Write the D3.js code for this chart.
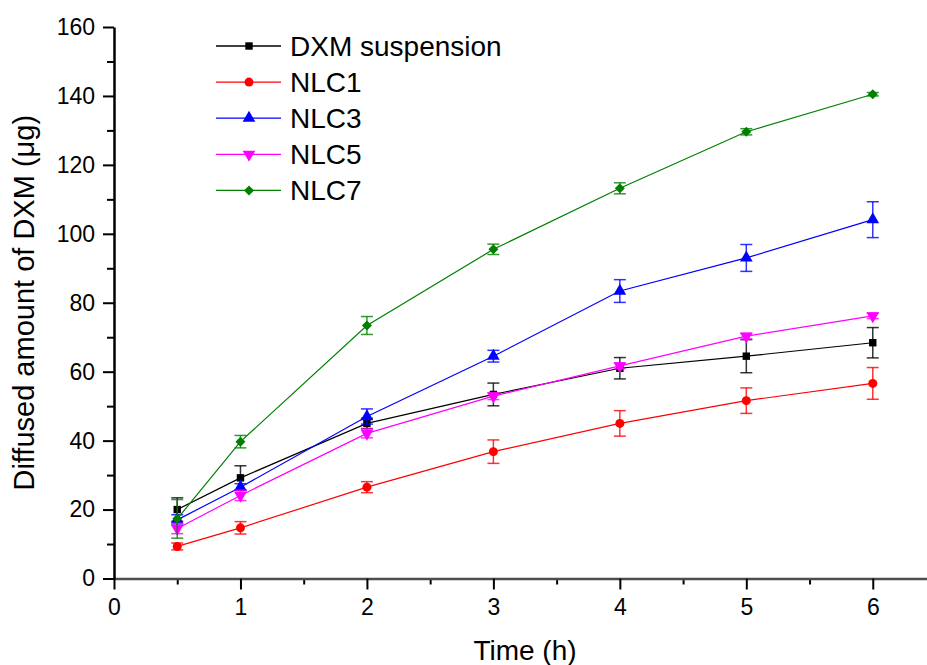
<!DOCTYPE html>
<html>
<head>
<meta charset="utf-8">
<script src="https://cdn.jsdelivr.net/npm/d3@7"></script>
<style>
  body { margin: 0; background: #fff; }
  text { font-family: "Liberation Sans", Arial, sans-serif; fill: #000; }
</style>
</head>
<body>
<div id="chart"></div>
<script>
  // Time points (h)
  const times = [0.5, 1, 2, 3, 4, 5, 6];

  // Series names (legend order = draw order)
  const seriesNames = ["DXM suspension", "NLC1", "NLC3", "NLC5", "NLC7"];
  const seriesColors = ["#000000", "#ff0000", "#0000ff", "#ff00ff", "#008000"];
  const seriesSymbols = ["square", "circle", "triangle", "triangleDown", "diamond"];

  // Mean diffused amount (µg)
  const dxmValues  = [20.0, 29.2, 45.0, 53.4, 61.0, 64.5, 68.4];
  const nlc1Values = [9.3, 14.7, 26.5, 36.8, 45.0, 51.6, 56.6];
  const nlc3Values = [17.0, 26.5, 47.0, 64.5, 83.4, 93.0, 104.1];
  const nlc5Values = [14.5, 24.1, 42.1, 52.9, 61.7, 70.3, 76.2];
  const nlc7Values = [17.3, 39.7, 73.4, 95.5, 113.2, 129.6, 140.5];

  // Error bars (± SD)
  const dxmErr  = [3.4, 3.5, 1.5, 3.3, 3.1, 4.8, 4.4];
  const nlc1Err = [1.0, 1.8, 1.6, 3.4, 3.7, 3.7, 4.6];
  const nlc3Err = [1.5, 1.0, 2.2, 1.7, 3.3, 3.9, 5.2];
  const nlc5Err = [1.5, 1.5, 1.3, 1.0, 0.8, 0.8, 0.8];
  const nlc7Err = [5.6, 1.8, 2.6, 1.5, 1.6, 0.9, 0.5];

  const xTicks = [0, 1, 2, 3, 4, 5, 6];
  const yTicks = [0, 20, 40, 60, 80, 100, 120, 140, 160];

  const allValues = [dxmValues, nlc1Values, nlc3Values, nlc5Values, nlc7Values];
  const allErr = [dxmErr, nlc1Err, nlc3Err, nlc5Err, nlc7Err];

  const series = seriesNames.map((name, i) => ({
    name: name,
    color: seriesColors[i],
    symbol: seriesSymbols[i],
    points: times.map((t, j) => ({ t: t, v: allValues[i][j], e: allErr[i][j] }))
  }));

  const width = 927, height = 665;
  const margin = { top: 27, left: 114, bottom: 86.5 };

  const svg = d3.select("#chart").append("svg")
    .attr("width", width)
    .attr("height", height);

  // x axis runs past the right edge (domain up to 6.5)
  const x = d3.scaleLinear().domain([0, 6.5]).range([margin.left, 936]);
  const y = d3.scaleLinear().domain([0, 160]).range([height - margin.bottom, margin.top]);

  // minor ticks first
  svg.append("g")
    .attr("transform", `translate(0, ${y(0)})`)
    .call(d3.axisBottom(x).tickValues(d3.range(0.5, 6.6, 1)).tickSize(6).tickFormat(""))
    .call(g => g.select(".domain").remove())
    .call(g => g.selectAll("line").attr("stroke", "#000").attr("stroke-width", 2));

  svg.append("g")
    .attr("transform", `translate(${x(0)}, 0)`)
    .call(d3.axisLeft(y).tickValues(d3.range(10, 160, 20)).tickSize(7).tickFormat(""))
    .call(g => g.select(".domain").remove())
    .call(g => g.selectAll("line").attr("stroke", "#000").attr("stroke-width", 2));

  // major axes
  const xAxis = svg.append("g")
    .attr("transform", `translate(0, ${y(0)})`)
    .call(d3.axisBottom(x).tickValues(xTicks).tickFormat(d3.format("d"))
      .tickSize(11).tickPadding(9).tickSizeOuter(0));
  xAxis.select(".domain").attr("stroke", "#4d4d4d").attr("stroke-width", 2.5);
  xAxis.selectAll("line").attr("stroke", "#000").attr("stroke-width", 2);
  xAxis.selectAll("text").style("font-size", "23px").attr("fill", "#000");

  const yAxis = svg.append("g")
    .attr("transform", `translate(${x(0)}, 0)`)
    .call(d3.axisLeft(y).tickValues(yTicks).tickSize(11).tickPadding(8).tickSizeOuter(0));
  yAxis.select(".domain").attr("stroke", "#000").attr("stroke-width", 2.5);
  yAxis.selectAll("line").attr("stroke", "#000").attr("stroke-width", 2);
  yAxis.selectAll("text").style("font-size", "23px").attr("fill", "#000");

  // axis titles
  svg.append("text")
    .attr("x", (x(0) + x(6.5)) / 2)
    .attr("y", 660)
    .attr("text-anchor", "middle")
    .style("font-size", "28px")
    .text("Time (h)");

  svg.append("text")
    .attr("transform", `translate(34, ${(y(0) + y(160)) / 2}) rotate(-90)`)
    .attr("text-anchor", "middle")
    .style("font-size", "29px")
    .text("Diffused amount of DXM (\u03bcg)");

  // symbol shapes
  const symbolTypes = {
    square: d3.symbolSquare,
    circle: d3.symbolCircle,
    triangle: d3.symbolTriangle,
    triangleDown: d3.symbolTriangle,
    diamond: d3.symbolSquare
  };
  const symbolSizes = { square: 55, circle: 64, triangle: 70, triangleDown: 70, diamond: 50 };

  function symbolPath(s) {
    return d3.symbol().type(symbolTypes[s]).size(symbolSizes[s])();
  }
  function symbolTransform(s, px, py) {
    if (s === "triangleDown") return `translate(${px},${py}) rotate(180)`;
    if (s === "diamond") return `translate(${px},${py}) rotate(45)`;
    return `translate(${px},${py})`;
  }

  const line = d3.line().x(d => x(d.t)).y(d => y(d.v));
  const capW = 6;

  series.forEach(s => {
    const g = svg.append("g");

    g.append("path")
      .attr("d", line(s.points))
      .attr("fill", "none")
      .attr("stroke", s.color)
      .attr("stroke-width", 1.2);

    const eb = g.selectAll(".err").data(s.points).enter().append("g")
      .attr("stroke", s.color)
      .attr("stroke-opacity", 0.8)
      .attr("stroke-width", 1.5);
    eb.append("line")
      .attr("x1", d => x(d.t)).attr("x2", d => x(d.t))
      .attr("y1", d => y(d.v - d.e)).attr("y2", d => y(d.v + d.e));
    eb.append("line")
      .attr("x1", d => x(d.t) - capW).attr("x2", d => x(d.t) + capW)
      .attr("y1", d => y(d.v + d.e)).attr("y2", d => y(d.v + d.e));
    eb.append("line")
      .attr("x1", d => x(d.t) - capW).attr("x2", d => x(d.t) + capW)
      .attr("y1", d => y(d.v - d.e)).attr("y2", d => y(d.v - d.e));

    g.selectAll(".mark").data(s.points).enter().append("path")
      .attr("d", symbolPath(s.symbol))
      .attr("transform", d => symbolTransform(s.symbol, x(d.t), y(d.v)))
      .attr("fill", s.color);
  });

  // legend
  const legend = svg.append("g").attr("transform", "translate(216, 46)");
  series.forEach((s, i) => {
    const row = legend.append("g").attr("transform", `translate(0, ${i * 36.1})`);
    row.append("line")
      .attr("x1", 0).attr("x2", 65)
      .attr("stroke", s.color).attr("stroke-width", 1.3);
    row.append("path")
      .attr("d", symbolPath(s.symbol))
      .attr("transform", symbolTransform(s.symbol, 33, 0))
      .attr("fill", s.color);
    row.append("text")
      .attr("x", 74)
      .attr("y", 10)
      .style("font-size", "28px")
      .text(s.name);
  });
</script>
</body>
</html>
